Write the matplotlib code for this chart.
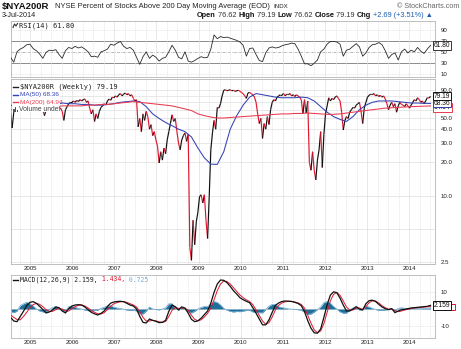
import numpy as np
import pandas as pd
import matplotlib
matplotlib.use("Agg")
import matplotlib.pyplot as plt
import matplotlib.dates as mdates
from matplotlib.collections import LineCollection
from matplotlib.patches import Rectangle
from matplotlib.ticker import FixedLocator, NullFormatter

W, H = 461, 349

# ---- weekly-sampled (every 2nd week) closes of $NYA200R, Jul 2004 .. 3 Jul 2014 ----
nya200r = [
    # 2004 H2 - 2005
    57, 41, 57, 63, 62, 66, 68, 72, 75, 73, 76, 74, 72, 68, 70, 74, 72, 66, 62, 64,
    60, 53, 60, 64, 68, 70, 67, 64, 66, 62, 60, 62, 58, 48, 60, 64, 68, 70,
    # 2006
    70, 72, 70, 73, 71, 74, 72, 74, 75, 70, 72, 62, 55, 60, 47, 55, 50, 58, 63, 65,
    68, 66, 72, 75, 73, 78,
    # 2007
    77, 80, 78, 82, 84, 80, 83, 85, 82, 84, 80, 82, 76, 72, 74, 42, 50, 38, 55, 48,
    58, 52, 40, 44, 35, 38,
    # 2008
    32, 28, 19.8, 25, 21, 27, 24, 32, 38, 45, 54, 47, 50, 38, 30, 26, 32, 35, 37, 31,
    36, 3.4, 2.6, 6.0, 3.6, 5.8,
    # 2009
    7.1, 9.8, 10.2, 8.6, 10.2, 6.0, 4.1, 9.8, 26, 37, 48, 40, 63, 62, 68, 80,
    90, 91, 89, 90, 91, 89, 90, 88, 89, 90,
    # 2010
    88, 86, 84, 80, 76, 85, 86, 84, 82, 78, 70, 55, 45, 50, 33, 45, 40, 52, 44, 60,
    70, 74, 72, 78, 80, 82,
    # 2011
    82, 84, 80, 83, 82, 84, 80, 82, 79, 82, 80, 78, 74, 55, 74, 56, 72, 20, 17, 25,
    17, 13.9, 21, 26, 38, 18,
    # 2012
    36, 55, 65, 77, 72, 76, 74, 78, 80, 76, 72, 57, 39.3, 48, 52, 50, 57, 60, 63, 62,
    66, 68, 70, 58, 45, 62,
    # 2013
    70, 78, 81, 83, 82, 84, 80, 82, 79, 81, 78, 80, 75, 68, 60, 66, 70, 64, 68, 57,
    65, 70, 67, 66, 64, 68,
    # 2014
    65, 62, 66, 70, 74, 72, 77, 74, 70, 72, 68, 72, 77, 76.50, 79.19,
]

# ---- moving averages, every 8th week ----
ma50 = [
    66, 64, 62, 62, 63, 64, 65, 66, 69, 68, 68, 67, 67, 66, 66, 67, 68, 70, 71, 72,
    71, 64, 55, 50, 46, 43, 40, 38, 34, 27, 22, 19.3, 19.2, 25, 40, 53, 66, 78, 84, 82,
    80, 78, 77, 77, 77, 78, 77, 72, 64, 57, 52, 49, 47, 52, 60, 66, 70, 72, 72, 72,
    71, 70, 69, 69, 68.5, 68.36,
]
ma200 = [
    60, 61, 62, 62, 63, 63, 64, 64, 65, 65, 65, 65, 66, 66, 67, 67, 68, 69, 70, 71,
    70, 69, 68, 67, 66, 65, 63, 61, 59, 55, 53, 51.5, 50.5, 50.5, 51, 51.5, 52, 52.5, 53, 53.5,
    54, 54.5, 55, 55, 55.5, 55.5, 56, 55.5, 55, 54.5, 54.5, 55, 56, 57, 58, 59, 60, 61, 62, 62.5,
    63, 63.5, 64, 64.3, 64.6, 64.94,
]

# ---- oscillators, every 4th week ----
rsi14 = [
    40, 31, 50, 55, 58, 63, 64, 56, 52, 46, 38, 49, 53, 52, 54, 45, 38, 52, 58, 56,
    60, 57, 59, 55, 50, 41, 42, 40, 50, 52, 55, 64, 62, 66, 69, 60, 56, 58, 53, 40,
    27, 41, 50, 38, 44, 40, 33, 38, 40, 50, 62, 53, 40, 37, 50, 33, 31, 34, 38, 41,
    39, 40, 55, 81, 74, 78, 76, 77, 75, 73, 71, 68, 62, 42, 56, 57, 45, 34, 32, 48,
    57, 59, 57, 58, 61, 63, 64, 66, 65, 55, 42, 28, 28, 24.5, 29, 35, 50, 55, 64, 69,
    69, 68, 64, 42, 53, 55, 60, 65, 59, 42, 48, 58, 63, 64, 67, 63, 52, 38, 45, 48,
    35, 50, 55, 48, 53, 50, 58, 51, 47, 55, 61.80,
]
macd = [
    -5, -7.2, -7.6, -4.5, -1.4, 2.0, 4.0, 4.4, 3.4, 1.6, -0.3, -2.4, -1.8, -0.6, 1.2, 0.8,
    -1.2, -2.4, 0.2, 1.8, 2.4, 2.6, 2.4, 1.2, -0.4, -2.0, -2.9, -3.6, -2.6, -1.2, 1.5, 3.5,
    4.2, 4.5, 4.6, 4.4, 3.4, 2.4, 1.8, 0, -4.4, -8.0, -8.4, -6.0, -6.8, -7.4, -8.2, -8.0,
    -6.8, -1.4, 2.4, 1.4, -0.5, 1.3, 0.5, -2.5, -6.2, -7.6, -7.1, -5.5, -3.3, -1.2, 3.5, 10,
    15, 17.4, 17.2, 15.8, 13.6, 11, 9, 6.8, 5.6, 4.6, 3.8, 0.8, -2.5, -6, -9.5, -9.5,
    -6.5, -2, 2.2, 3.6, 4.5, 4.8, 4.7, 4.5, 4.0, 3.3, 2.0, -1.5, -7, -11.5, -14.3, -14.5,
    -12, -5, 2.5, 8.3, 10.3, 9.8, 6.5, 2.3, -1.2, -1.2, 0, 1.4, 0, -0.6, 3.2, 5,
    5.3, 4.5, 2.8, 1.2, 0.2, -0.4, 0.2, -2.2, -1.2, -0.5, -0.2, 0.2, 0.6, 0.8, 1.0, 1.2,
    1.4, 1.6, 2.159,
]
signal = [
    -3.5, -5, -6.3, -6.5, -4.5, -2, 0.8, 2.6, 3.4, 2.8, 1.4, -0.4, -1.5, -1.4, -0.4, 0.4,
    0, -1.2, -1.2, 0.2, 1.4, 2.2, 2.4, 1.8, 0.6, -0.8, -2, -2.9, -3, -2.2, -0.4, 1.6,
    3.1, 3.9, 4.3, 4.5, 4.0, 3.2, 2.4, 1.2, -1.6, -5, -7.2, -7.2, -6.8, -7.1, -7.7, -8,
    -7.5, -4.5, -0.8, 0.8, 0.4, 0.4, 0.6, -0.8, -3.8, -6.2, -7.1, -6.5, -4.8, -2.6, 0.5, 5.5,
    11, 15, 16.8, 16.5, 15, 12.8, 10.5, 8.4, 6.8, 5.5, 4.5, 2.6, -0.5, -3.8, -7.2, -9.2,
    -8.2, -4.8, -0.5, 2.2, 3.6, 4.3, 4.6, 4.6, 4.2, 3.7, 2.7, 0.5, -3.8, -8.5, -12.5, -14.2,
    -13.2, -8.8, -2, 4.8, 8.8, 9.9, 8.2, 4.8, 1.2, -0.6, -0.6, 0.6, 0.6, -0.2, 1.4, 3.8,
    4.9, 4.8, 3.6, 2.0, 0.8, -0.1, 0, -1.1, -1.6, -1.2, -0.6, -0.2, 0.4, 0.6, 0.8, 1.0,
    1.15, 1.3, 1.434,
]

# labelled ticks (70.0 / 80.0 and the MACD zero sit behind the value tags)
main_ticks = [2.5, 10, 20, 30, 40, 50, 60, 90]
main_grid = [5, 70, 80]
rsi_ticks = [10, 30, 50, 70, 90]
macd_ticks = [-10, 10]

dates = pd.date_range(end="2014-07-03", periods=len(nya200r), freq="14D")
ma_dates = dates[::4]
osc_dates = dates[::2]
hist = np.array(macd) - np.array(signal)

BLACK = "#111111"
RED = "#e0162f"
BLUE = "#3242b4"
MA_RED = "#ea3a50"
GRID = "#dedede"
SPINE = "#b4b4b4"
TEAL = "#1f6f98"
LIGHT_BLUE = "#78acd6"
MONO = "DejaVu Sans Mono"
SANS = "Liberation Sans"

fig = plt.figure(figsize=(W / 100, H / 100), dpi=100)
fig.patch.set_facecolor("white")


def rect(top, bottom, left=11, right=435):
    return [left / W, 1 - bottom / H, (right - left) / W, (bottom - top) / H]


def fxy(px, py):
    return px / W, 1 - py / H


ax_rsi = fig.add_axes(rect(21, 77))
ax_main = fig.add_axes(rect(79, 264))
ax_macd = fig.add_axes(rect(275, 338))

xmin = mdates.date2num(pd.Timestamp("2004-07-19"))
xmax = mdates.date2num(pd.Timestamp("2014-08-11"))

for ax in (ax_rsi, ax_main, ax_macd):
    for s in ax.spines.values():
        s.set_color(SPINE)
        s.set_linewidth(0.6)
    ax.set_xlim(xmin, xmax)
    ax.xaxis.set_major_locator(mdates.YearLocator())
    ax.xaxis.set_minor_locator(mdates.MonthLocator(bymonth=[4, 7, 10]))
    ax.xaxis.set_major_formatter(mdates.DateFormatter("%Y"))
    ax.grid(which="major", axis="x", color=GRID, lw=0.5)
    ax.grid(which="minor", axis="x", color=GRID, lw=0.45, ls=(0, (2, 1.5)))
    ax.yaxis.tick_right()
    ax.tick_params(axis="both", which="both", length=0, labelsize=4.4,
                   colors="#222222")
    ax.tick_params(axis="y", pad=4)
    ax.tick_params(axis="x", pad=1.2)
    for lab in ax.get_xticklabels() + ax.get_yticklabels():
        lab.set_fontfamily(SANS)

ax_rsi.tick_params(labelbottom=False)

# ---- RSI panel ----
ax_rsi.set_ylim(3.8, 106.5)
ax_rsi.set_yticks(rsi_ticks)
ax_rsi.set_yticklabels([str(t) for t in rsi_ticks], fontfamily=SANS)
for lvl in (10, 90):
    ax_rsi.axhline(lvl, color=GRID, lw=0.45, ls=(0, (2, 1.5)), zorder=0)
ax_rsi.axhline(70, color="#8c8c8c", lw=0.7, zorder=1)
ax_rsi.axhline(30, color="#8c8c8c", lw=0.7, zorder=1)
ax_rsi.axhline(50, color="#9a9a9a", lw=0.5, ls=(0, (4, 1.5, 1, 1.5)), zorder=1)
ax_rsi.plot(osc_dates, rsi14, color="#2a2a2a", lw=0.6, zorder=3)

# ---- price panel ----
ax_main.set_yscale("log")
ax_main.set_ylim(2.41, 113.8)
ax_main.yaxis.set_major_locator(FixedLocator(main_ticks))
ax_main.set_yticklabels([f"{t:.1f}" for t in main_ticks], fontfamily=SANS)
ax_main.yaxis.set_minor_locator(FixedLocator(main_grid))
ax_main.yaxis.set_minor_formatter(NullFormatter())
ax_main.grid(which="both", axis="y", color=GRID, lw=0.5)

xd = mdates.date2num(dates)
pts = np.column_stack([xd, np.array(nya200r, dtype=float)])
segs = np.stack([pts[:-1], pts[1:]], axis=1)
cols = [BLACK if b >= a else RED for a, b in zip(nya200r[:-1], nya200r[1:])]
ax_main.add_collection(LineCollection(segs, colors=cols, linewidths=0.85, zorder=3))
ax_main.plot(ma_dates, ma50, color=BLUE, lw=0.75, zorder=4)
ax_main.plot(ma_dates, ma200, color=MA_RED, lw=0.75, zorder=4)

# ---- MACD panel ----
ax_macd.set_ylim(-17.4, 20.4)
ax_macd.set_yticks(macd_ticks)
ax_macd.set_yticklabels([str(t) for t in macd_ticks], fontfamily=SANS)
ax_macd.yaxis.set_minor_locator(FixedLocator([0]))
ax_macd.grid(which="both", axis="y", color=GRID, lw=0.45, ls=(0, (2, 1.5)))
ax_macd.fill_between(osc_dates, 0, hist, color=TEAL, lw=0, zorder=2)
ax_macd.plot(osc_dates, hist, color=LIGHT_BLUE, lw=0.6, zorder=2)
ax_macd.plot(osc_dates, signal, color=RED, lw=0.7, zorder=3)
ax_macd.plot(osc_dates, macd, color=BLACK, lw=0.9, zorder=4)

# ---- legends ----
fig.add_artist(Rectangle(fxy(12, 112), 48 / W, 30 / H, transform=fig.transFigure,
                         facecolor="white", edgecolor="none", zorder=5))

renderer = fig.canvas.get_renderer()


def runs(x0, y, parts, **kw):
    x = x0
    for s, props in parts:
        opts = dict(kw)
        opts.update(props)
        t = fig.text(*fxy(x, y), s, ha="left", va="center", zorder=6, **opts)
        x += t.get_window_extent(renderer).width
    return x


def legend_row(y, text, color, family, size, x0=13):
    fig.add_artist(plt.Line2D([x0 / W, (x0 + 5) / W], [1 - y / H] * 2,
                              transform=fig.transFigure, color=color, lw=1.0,
                              zorder=6))
    fig.text(*fxy(x0 + 6.5, y), text, color=color, fontsize=size, fontfamily=family,
             ha="left", va="center", zorder=6)


legend_row(86.5, "$NYA200R (Weekly) 79.19", "#222222", MONO, 5.0)
legend_row(94.5, "MA(50) 68.36", BLUE, SANS, 4.6)
legend_row(102.3, "MA(200) 64.94", MA_RED, SANS, 4.6)
for i, hgt in enumerate((3, 5, 2)):
    fig.add_artist(Rectangle(fxy(13.3 + i * 1.7, 111.5), 1.2 / W, hgt / H,
                             transform=fig.transFigure, facecolor="#555555",
                             edgecolor="none", zorder=6))
fig.text(*fxy(19, 109.5), "Volume undef", color="#444444", fontsize=4.9,
         fontfamily=SANS, ha="left", va="center", zorder=6)

# RSI label with small line icon
fig.add_artist(plt.Line2D([13 / W, 14.5 / W, 16 / W, 17.5 / W],
                          [1 - 27.5 / H, 1 - 24 / H, 1 - 26 / H, 1 - 23.5 / H],
                          transform=fig.transFigure, color="#333333", lw=0.8, zorder=6))
fig.text(*fxy(18.5, 25.5), "RSI(14) 61.80", color="#222222", fontsize=5.0,
         fontfamily=MONO, ha="left", va="center", zorder=6)

# MACD label
fig.add_artist(plt.Line2D([13 / W, 18 / W], [1 - 279.5 / H] * 2,
                          transform=fig.transFigure, color=BLACK, lw=1.0, zorder=6))
runs(20, 279.5, [("MACD(12,26,9) 2.159,", dict(color="#222222")),
                 (" 1.434,", dict(color=RED)),
                 (" 0.725", dict(color=LIGHT_BLUE))],
     fontsize=4.7, fontfamily=MONO)

# ---- value tags on the right ----


def tag(y, s, ec, fs=4.8):
    fig.text(*fxy(434, y), s, fontsize=fs, fontfamily=SANS, color="#111111",
             ha="left", va="center", zorder=7,
             bbox=dict(boxstyle="square,pad=0.12", fc="white", ec=ec, lw=0.7))


tag(107.2, "64.94", MA_RED)
tag(103.0, "68.36", BLUE)
tag(96.2, "79.19", "#111111")
tag(45.4, "61.80", "#333333")
# signal-line tag sits underneath the MACD tag; only its red edge shows
fig.add_artist(Rectangle(fxy(433.5, 310.2), 21 / W, 6.5 / H, transform=fig.transFigure,
                         facecolor="white", edgecolor=RED, lw=0.7, zorder=6))
tag(305.4, "2.159", "#111111")

# ---- header ----
fig.text(*fxy(2, 6.5), "$NYA200R", fontsize=6.8, fontweight="bold",
         fontfamily=SANS, color="#111111", ha="left", va="center")
x_after = runs(55, 6.5, [("NYSE Percent of Stocks Above 200 Day Moving Average (EOD)",
                          dict(fontsize=5.4))],
               fontfamily=SANS, color="#222222")
fig.text(*fxy(x_after + 3, 6.5), "INDX", fontsize=4.4, fontfamily=SANS,
         color="#222222", ha="left", va="center")
fig.text(*fxy(459, 6.5), "\u00a9 StockCharts.com", fontsize=5.2, fontfamily=SANS,
         color="#666666", ha="right", va="center")
fig.text(*fxy(2, 15.5), "3-Jul-2014", fontsize=5.2, fontfamily=SANS,
         color="#222222", ha="left", va="center")
bold = dict(fontweight="bold", color="#111111")
norm = dict(color="#333333")
chg = dict(color="#1d5fb0")
runs(197, 15.5, [("Open", bold), (" 76.62 ", norm), ("High", bold), (" 79.19 ", norm),
                 ("Low", bold), (" 76.62 ", norm), ("Close", bold), (" 79.19 ", norm),
                 ("Chg", bold), (" +2.69 (+3.51%) \u25b2", chg)],
     fontsize=5.3, fontfamily=SANS)

fig.savefig("out.png", dpi=100, facecolor="white")
